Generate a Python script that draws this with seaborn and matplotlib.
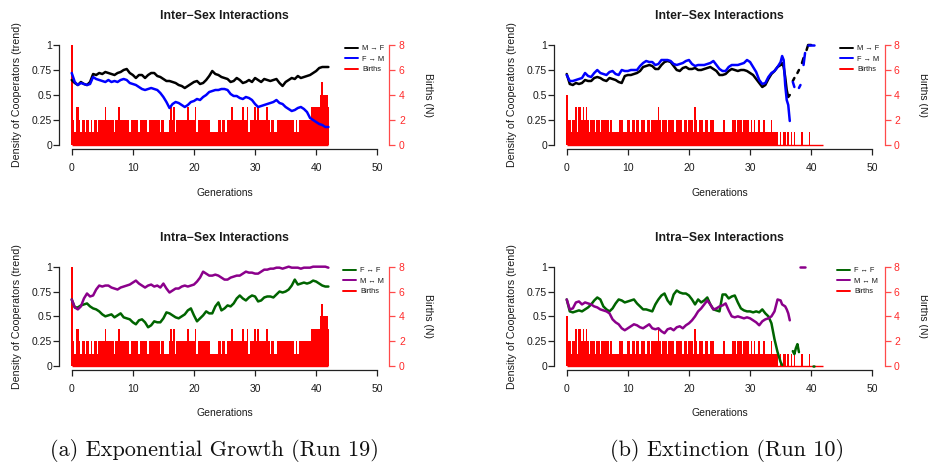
import numpy as np
import pandas as pd
import matplotlib
matplotlib.use("Agg")
import matplotlib.pyplot as plt
from matplotlib.lines import Line2D
import seaborn as sns

NA = np.nan

# ---------------- data ----------------
# Run 19 (exponential growth): trend lines sampled every 0.5 generations (0..42)
gen19 = np.arange(0, 42.01, 0.5)
mf19 = [0.65, 0.62, 0.60, 0.63, 0.61, 0.60, 0.63, 0.71, 0.70, 0.72,
        0.71, 0.73, 0.72, 0.71, 0.70, 0.72, 0.73, 0.75, 0.76, 0.72,
        0.70, 0.67, 0.70, 0.70, 0.67, 0.70, 0.72, 0.72, 0.69, 0.68,
        0.66, 0.64, 0.64, 0.63, 0.62, 0.60, 0.59, 0.57, 0.59, 0.61,
        0.63, 0.64, 0.61, 0.62, 0.65, 0.69, 0.74, 0.71, 0.70, 0.68,
        0.67, 0.66, 0.63, 0.64, 0.67, 0.65, 0.62, 0.63, 0.65, 0.63,
        0.67, 0.65, 0.63, 0.66, 0.65, 0.64, 0.65, 0.66, 0.62, 0.59,
        0.63, 0.65, 0.67, 0.66, 0.69, 0.67, 0.68, 0.69, 0.70, 0.72,
        0.74, 0.77, 0.78, 0.78, 0.78]
fm19 = [0.72, 0.63, 0.60, 0.62, 0.61, 0.60, 0.61, 0.68, 0.66, 0.65,
        0.64, 0.63, 0.65, 0.63, 0.64, 0.63, 0.65, 0.66, 0.65, 0.62,
        0.61, 0.60, 0.58, 0.56, 0.55, 0.56, 0.57, 0.56, 0.55, 0.52,
        0.48, 0.43, 0.37, 0.41, 0.43, 0.42, 0.40, 0.38, 0.40, 0.43,
        0.44, 0.46, 0.45, 0.48, 0.50, 0.53, 0.54, 0.55, 0.55, 0.56,
        0.56, 0.55, 0.51, 0.49, 0.49, 0.47, 0.46, 0.48, 0.47, 0.45,
        0.41, 0.38, 0.39, 0.40, 0.41, 0.42, 0.43, 0.45, 0.42, 0.41,
        0.38, 0.36, 0.34, 0.35, 0.37, 0.38, 0.36, 0.33, 0.27, 0.25,
        0.23, 0.21, 0.20, 0.18, 0.18]
ff19 = [0.67, 0.59, 0.59, 0.61, 0.62, 0.63, 0.60, 0.58, 0.57, 0.55,
        0.52, 0.50, 0.51, 0.52, 0.49, 0.51, 0.53, 0.49, 0.48, 0.47,
        0.44, 0.42, 0.46, 0.47, 0.44, 0.39, 0.41, 0.45, 0.44, 0.44,
        0.48, 0.54, 0.53, 0.51, 0.49, 0.48, 0.50, 0.52, 0.56, 0.58,
        0.51, 0.45, 0.48, 0.51, 0.55, 0.53, 0.53, 0.60, 0.64, 0.56,
        0.58, 0.61, 0.60, 0.63, 0.68, 0.71, 0.68, 0.66, 0.69, 0.71,
        0.70, 0.65, 0.66, 0.69, 0.70, 0.70, 0.69, 0.72, 0.75, 0.74,
        0.75, 0.77, 0.81, 0.87, 0.82, 0.83, 0.84, 0.83, 0.84, 0.86,
        0.85, 0.83, 0.81, 0.80, 0.80]
mm19 = [0.67, 0.59, 0.57, 0.60, 0.68, 0.73, 0.70, 0.71, 0.77, 0.81,
        0.80, 0.81, 0.81, 0.79, 0.78, 0.77, 0.79, 0.80, 0.81, 0.82,
        0.84, 0.86, 0.83, 0.81, 0.79, 0.81, 0.82, 0.80, 0.81, 0.79,
        0.83, 0.78, 0.74, 0.76, 0.78, 0.78, 0.80, 0.81, 0.80, 0.81,
        0.82, 0.85, 0.89, 0.95, 0.93, 0.91, 0.91, 0.92, 0.91, 0.89,
        0.87, 0.87, 0.89, 0.90, 0.91, 0.91, 0.93, 0.95, 0.94, 0.94,
        0.93, 0.93, 0.95, 0.97, 0.97, 0.98, 0.98, 0.99, 0.99, 0.98,
        0.99, 1.00, 0.99, 0.99, 0.99, 0.98, 0.99, 0.99, 0.99, 1.00,
        1.00, 1.00, 1.00, 1.00, 0.99]

# Run 10 (extinction): every 0.5 generations up to 34.5, then every 0.25 to 42
gen10 = np.concatenate([np.arange(0, 34.51, 0.5), np.arange(35, 42.01, 0.25)])
mf10 = [0.71, 0.61, 0.60, 0.62, 0.61, 0.62, 0.65, 0.64, 0.64, 0.67,
        0.68, 0.67, 0.65, 0.64, 0.67, 0.66, 0.65, 0.63, 0.62, 0.69,
        0.70, 0.70, 0.71, 0.72, 0.74, 0.78, 0.79, 0.80, 0.79, 0.76,
        0.76, 0.80, 0.83, 0.84, 0.83, 0.79, 0.75, 0.74, 0.77, 0.78,
        0.76, 0.76, 0.77, 0.75, 0.75, 0.76, 0.77, 0.78, 0.76, 0.74,
        0.70, 0.70, 0.71, 0.74, 0.76, 0.75, 0.74, 0.75, 0.75, 0.74,
        0.72, 0.70, 0.66, 0.62, 0.58, 0.60, 0.66, 0.71, 0.74, 0.78,
        0.80, 0.82, 0.78, 0.68, 0.55, 0.48, 0.50, NA, 0.64, 0.67,
        NA, 0.72, 0.75, NA, 0.82, 0.87, NA, 0.95, 1.00, 1.00,
        1.00, NA, NA, NA, NA, NA, NA, NA, NA]
fm10 = [0.70, 0.64, 0.64, 0.65, 0.66, 0.67, 0.72, 0.69, 0.68, 0.72,
        0.75, 0.72, 0.71, 0.70, 0.73, 0.74, 0.71, 0.70, 0.75, 0.74,
        0.74, 0.75, 0.75, 0.75, 0.79, 0.82, 0.84, 0.83, 0.83, 0.80,
        0.81, 0.85, 0.85, 0.85, 0.84, 0.81, 0.80, 0.81, 0.82, 0.84,
        0.85, 0.81, 0.79, 0.80, 0.80, 0.80, 0.81, 0.82, 0.84, 0.80,
        0.76, 0.74, 0.74, 0.78, 0.80, 0.80, 0.80, 0.81, 0.82, 0.85,
        0.83, 0.78, 0.73, 0.65, 0.61, 0.62, 0.68, 0.72, 0.74, 0.78,
        0.83, 0.89, 0.85, 0.60, 0.45, 0.40, 0.24, NA, 0.63, 0.58,
        NA, NA, 0.57, 0.60, NA, 0.80, 0.92, NA, 1.00, 1.00,
        1.00, 1.00, 1.00, NA, NA, NA, NA, NA, NA]
ff10 = [0.67, 0.55, 0.54, 0.55, 0.56, 0.55, 0.57, 0.59, 0.62, 0.66,
        0.69, 0.67, 0.60, 0.57, 0.55, 0.58, 0.63, 0.67, 0.66, 0.64,
        0.65, 0.66, 0.67, 0.63, 0.60, 0.57, 0.57, 0.56, 0.55, 0.62,
        0.67, 0.71, 0.73, 0.66, 0.62, 0.72, 0.76, 0.74, 0.73, 0.73,
        0.71, 0.67, 0.62, 0.67, 0.64, 0.66, 0.69, 0.62, 0.57, 0.56,
        0.55, 0.72, 0.72, 0.68, 0.70, 0.71, 0.64, 0.58, 0.56, 0.55,
        0.55, 0.54, 0.55, 0.54, 0.57, 0.53, 0.50, 0.43, 0.27, 0.14,
        0.04, 0.01, NA, NA, NA, NA, NA, NA, 0.15, 0.12,
        0.18, 0.22, 0.14, NA, NA, NA, NA, NA, NA, NA,
        NA, 0.00, 0.00, NA, NA, NA, NA, NA, NA]
mm10 = [0.67, 0.57, 0.58, 0.64, 0.65, 0.62, 0.64, 0.63, 0.62, 0.60,
        0.59, 0.57, 0.56, 0.55, 0.53, 0.47, 0.44, 0.42, 0.38, 0.36,
        0.38, 0.40, 0.42, 0.41, 0.39, 0.38, 0.40, 0.42, 0.38, 0.37,
        0.38, 0.35, 0.33, 0.37, 0.38, 0.36, 0.39, 0.40, 0.38, 0.41,
        0.43, 0.46, 0.50, 0.55, 0.58, 0.62, 0.66, 0.62, 0.57, 0.58,
        0.60, 0.61, 0.63, 0.56, 0.50, 0.49, 0.50, 0.49, 0.48, 0.49,
        0.48, 0.46, 0.44, 0.41, 0.45, 0.47, 0.48, 0.50, 0.55, 0.67,
        0.66, 0.62, 0.61, 0.60, 0.57, 0.53, 0.46, NA, NA, NA,
        NA, NA, NA, 1.00, 1.00, 1.00, 1.00, NA, NA, NA,
        NA, NA, NA, NA, NA, NA, NA, NA, NA]

# Births per 0.25 generation step (0..42)
gen_births = np.arange(0, 42.01, 0.25)
births19 = [8, 2, 1, 3, 3, 2, 1, 2, 2, 1, 2, 2, 1, 2, 1, 2, 2, 1, 2, 2,
            2, 2, 3, 2, 2, 2, 2, 2, 1, 2, 2, 3, 2, 2, 2, 2, 2, 2, 1, 2,
            2, 2, 2, 2, 1, 2, 2, 2, 2, 2, 1, 2, 2, 2, 2, 2, 2, 2, 1, 2,
            2, 1, 1, 1, 2, 3, 2, 3, 1, 2, 2, 2, 2, 2, 2, 2, 3, 2, 2, 2,
            2, 3, 1, 2, 2, 2, 2, 2, 2, 2, 2, 1, 1, 1, 1, 1, 2, 2, 1, 2,
            2, 1, 2, 2, 2, 3, 2, 2, 2, 2, 2, 2, 3, 2, 2, 3, 1, 2, 2, 2,
            3, 2, 3, 2, 2, 2, 2, 2, 3, 2, 1, 2, 2, 1, 1, 2, 2, 2, 2, 2,
            2, 2, 2, 2, 2, 2, 1, 2, 1, 2, 2, 2, 2, 2, 2, 2, 2, 3, 3, 3,
            3, 3, 3, 4, 5, 4, 4, 4, 3]
births10 = [4, 2, 2, 1, 2, 2, 3, 1, 3, 3, 2, 3, 2, 3, 2, 1, 2, 2, 2, 1,
            2, 2, 1, 2, 2, 2, 2, 2, 1, 2, 1, 1, 1, 1, 1, 2, 2, 1, 1, 1,
            2, 2, 1, 2, 2, 1, 2, 2, 1, 2, 2, 2, 1, 2, 2, 1, 2, 2, 2, 2,
            3, 2, 1, 2, 2, 2, 1, 2, 2, 2, 2, 1, 2, 2, 2, 2, 1, 2, 2, 1,
            2, 2, 2, 1, 3, 2, 1, 2, 2, 2, 1, 2, 2, 1, 2, 2, 2, 1, 1, 1,
            1, 1, 1, 2, 1, 1, 1, 1, 1, 2, 2, 1, 2, 2, 2, 1, 2, 2, 2, 2,
            1, 2, 1, 2, 1, 1, 2, 1, 1, 2, 1, 1, 1, 1, 2, 1, 1, 1, 1, 0,
            1, 0, 1, 1, 0, 1, 0, 1, 0, 1, 0, 0, 0, 0, 1, 0, 0, 0, 0, 1,
            0, 0, 0, 0, 0, 0, 0, 0, 0]

for s in (mf19, fm19, ff19, mm19):
    assert len(s) == len(gen19), len(s)
for s in (mf10, fm10, ff10, mm10):
    assert len(s) == len(gen10), len(s)
for s in (births19, births10):
    assert len(s) == len(gen_births), len(s)

titles = ["Inter\u2212Sex Interactions", "Intra\u2212Sex Interactions"]
x_ticks = [0, 10, 20, 30, 40, 50]
y_ticks = [0, 0.25, 0.5, 0.75, 1]
y_tick_labels = ["0", "0.25", "0.5", "0.75", "1"]
b_ticks = [0, 2, 4, 6, 8]
captions = ["(a) Exponential Growth (Run 19)", "(b) Extinction (Run 10)"]

C_MF, C_FM, C_FF, C_MM = "#000000", "#0000ff", "#006400", "#8b008b"
C_B = "#ff0000"
C_AX2 = "#ff4a4a"

# ---------------- figure ----------------
sns.set_theme(style="ticks")
plt.rcParams["font.family"] = ["Liberation Sans", "DejaVu Sans"]
plt.rcParams["axes.unicode_minus"] = True

W, H = 929, 468
fig = plt.figure(figsize=(W / 100, H / 100), dpi=100)


def px_axes(x0, y0, x1, y1):
    return fig.add_axes([x0 / W, 1 - y1 / H, (x1 - x0) / W, (y1 - y0) / H])


def long_df(grid, series):
    rows = []
    for name, vals in series:
        seg = 0
        for g, v in zip(grid, vals):
            if np.isnan(v):
                seg += 1
                continue
            rows.append((g, v, name, seg))
    return pd.DataFrame(rows, columns=["gen", "val", "series", "seg"])


panels = [
    dict(rect=(59.5, 41, 389.5, 149), grid=gen19, births=births19, title=titles[0],
         series=[("M \u2192 F", mf19, C_MF), ("F \u2192 M", fm19, C_FM)], leg=(345, 45)),
    dict(rect=(554.5, 41, 884.5, 149), grid=gen10, births=births10, title=titles[0],
         series=[("M \u2192 F", mf10, C_MF), ("F \u2192 M", fm10, C_FM)], leg=(840, 45)),
    dict(rect=(59.5, 262.7, 389.5, 370), grid=gen19, births=births19, title=titles[1],
         series=[("F \u2194 F", ff19, C_FF), ("M \u2194 M", mm19, C_MM)], leg=(343, 267)),
    dict(rect=(554.5, 262.7, 884.5, 370), grid=gen10, births=births10, title=titles[1],
         series=[("F \u2194 F", ff10, C_FF), ("M \u2194 M", mm10, C_MM)], leg=(837, 267)),
]

TXT = "#1a1a1a"
for p in panels:
    x0, y0, x1, y1 = p["rect"]
    h = y1 - y0
    ax = px_axes(*p["rect"])
    ax2 = ax.twinx()
    ax.set_zorder(ax2.get_zorder() + 1)
    ax.patch.set_visible(False)

    # births (right axis)
    b = np.asarray(p["births"], dtype=float)
    ax2.bar(gen_births, b, width=0.26, color=C_B, linewidth=0, antialiased=False)
    ax2.hlines(0, gen_births[0], gen_births[-1], color=C_B, lw=1.0)
    ax2.set_ylim(-0.32, 8.32)
    ax2.set_yticks(b_ticks)
    ax2.set_yticklabels([str(t) for t in b_ticks])
    for side in ("top", "left", "bottom"):
        ax2.spines[side].set_visible(False)
    ax2.spines["right"].set_bounds(0, 8)
    ax2.spines["right"].set_color(C_AX2)
    ax2.spines["right"].set_linewidth(0.9)
    ax2.tick_params(axis="y", direction="out", length=4.3, width=0.9, colors=C_AX2,
                    labelcolor="#ff2a2a", labelsize=7.5, pad=2.5)
    ax2.set_ylabel("Births (N)", fontsize=7.5, color=TXT, rotation=-90)
    ax2.yaxis.label.set(va="center", ha="center", rotation_mode="anchor")
    ax2.yaxis.set_label_coords(1.117, 0.5)

    # cooperation trends (left axis)
    names = [s[0] for s in p["series"]]
    pal = {s[0]: s[2] for s in p["series"]}
    df = long_df(p["grid"], [(s[0], s[1]) for s in p["series"]])
    sns.lineplot(data=df, x="gen", y="val", hue="series", hue_order=names, palette=pal,
                 units="seg", estimator=None, linewidth=1.8, legend=False, ax=ax)
    ax.set_xlim(-2, 52)
    ax.set_ylim(-0.04, 1.04)
    ax.set_xticks(x_ticks)
    ax.set_xticklabels([str(t) for t in x_ticks])
    ax.set_yticks(y_ticks)
    ax.set_yticklabels(y_tick_labels)
    ax.spines["top"].set_visible(False)
    ax.spines["right"].set_visible(False)
    ax.spines["left"].set_bounds(0, 1)
    ax.spines["bottom"].set_bounds(0, 50)
    for side in ("left", "bottom"):
        ax.spines[side].set_color("#222222")
        ax.spines[side].set_linewidth(0.9)
    ax.tick_params(axis="both", direction="out", length=4.3, width=0.9, colors="#222222",
                   labelcolor=TXT, labelsize=7.5)
    ax.tick_params(axis="x", pad=5.5)
    ax.tick_params(axis="y", pad=1.0)

    ax.set_xlabel("Generations", fontsize=7.5, color=TXT)
    ax.xaxis.label.set(va="center")
    ax.xaxis.set_label_coords(0.5, -43.5 / h)
    ax.set_ylabel("Density of Cooperators (trend)", fontsize=7.7, color=TXT)
    ax.yaxis.label.set(va="center", ha="center", rotation_mode="anchor")
    ax.yaxis.set_label_coords(-0.13, 0.5)

    ax.set_title(p["title"], fontsize=8.8, fontweight="bold", color=TXT,
                 y=1 + 25 / h, va="center", pad=0)

    handles = [Line2D([], [], color=s[2], lw=1.4) for s in p["series"]] + \
              [Line2D([], [], color=C_B, lw=1.4)]
    labels = names + ["Births"]
    lx, ly = p["leg"]
    ax.legend(handles, labels, loc="upper left", bbox_to_anchor=(lx / W, 1 - ly / H),
              bbox_transform=fig.transFigure, frameon=False, fontsize=5.3,
              handlelength=1.7, handletextpad=0.6, labelspacing=0.45,
              borderpad=0, borderaxespad=0, labelcolor=TXT)

for txt, cx in zip(captions, (214, 727)):
    fig.text(cx / W, 1 - 450 / H, txt, family="cmr10", fontsize=16,
             ha="center", va="center", color="#111111")

fig.savefig("out.png", dpi=100)
